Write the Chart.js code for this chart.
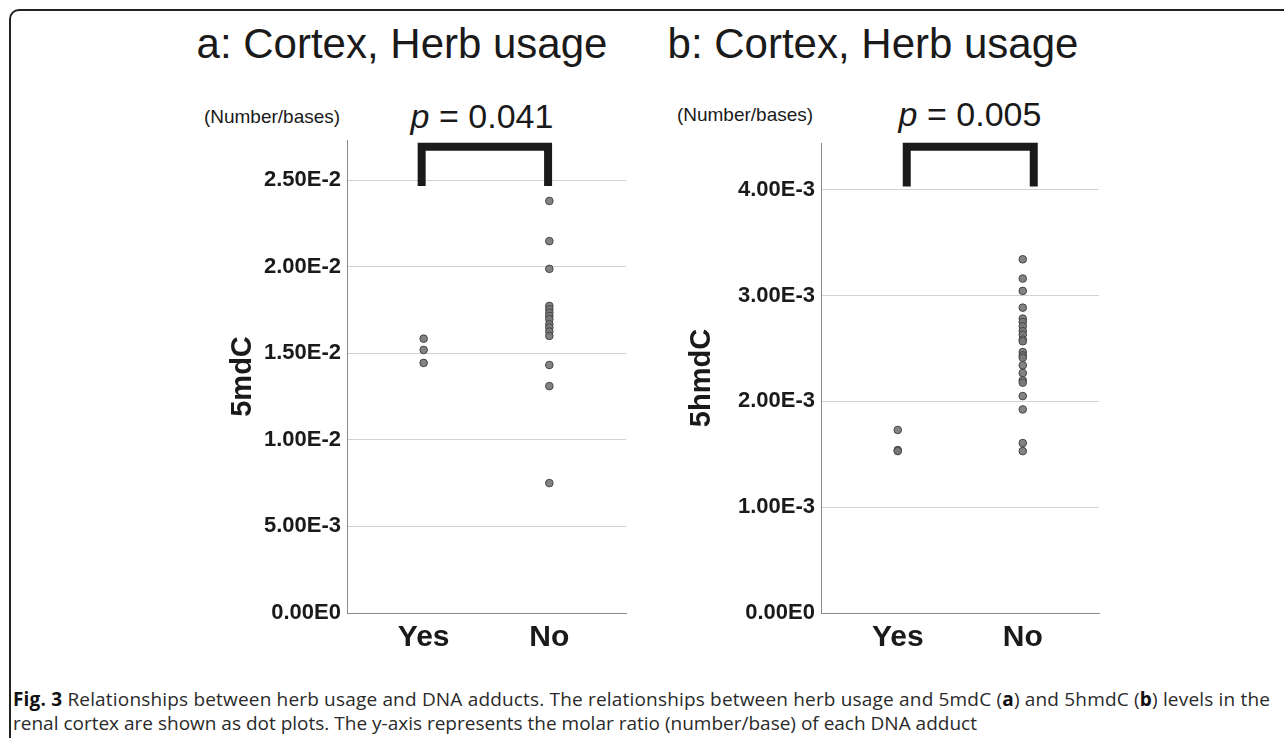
<!DOCTYPE html>
<html>
<head>
<meta charset="utf-8">
<script src="https://cdn.jsdelivr.net/npm/chart.js@4.4.1/dist/chart.umd.min.js"></script>
<style>
  html, body { margin: 0; padding: 0; background: #fff; }
  body { width: 1284px; height: 738px; position: relative; overflow: hidden; font-family: "Liberation Sans", Arial, sans-serif; }
  .frame { position: absolute; left: 9px; top: 9px; width: 1300px; height: 740px; border: 2px solid #222; border-radius: 10px; box-sizing: border-box; }
  .title { position: absolute; font-size: 42px; color: #1a1a1a; white-space: nowrap; transform: translateX(-50%); }
  .pval { position: absolute; font-size: 34px; color: #1a1a1a; white-space: nowrap; transform: translateX(-50%); }
  .unit { position: absolute; font-size: 19px; color: #1a1a1a; white-space: nowrap; transform: translateX(-50%); }
  .box { position: absolute; width: 450px; height: 560px; }
  .caption { position: absolute; left: 13px; top: 687px; font-family: "Open Sans", sans-serif; font-size: 19px; color: #2a2a2a; line-height: 24px; white-space: nowrap; }
  .caption b { color: #111; }
</style>
</head>
<body>
<div class="frame"></div>

<div class="title" style="left:402px; top:20px;">a: Cortex, Herb usage</div>
<div class="title" style="left:873px; top:20px;">b: Cortex, Herb usage</div>

<div class="unit" style="left:272px; top:106px;">(Number/bases)</div>
<div class="unit" style="left:745px; top:104px;">(Number/bases)</div>

<div class="pval" style="left:482px; top:97px;"><i>p</i> = 0.041</div>
<div class="pval" style="left:970px; top:95px;"><i>p</i> = 0.005</div>

<div class="box" style="left:190px; top:120px;"><canvas id="chartA"></canvas></div>
<div class="box" style="left:665px; top:120px;"><canvas id="chartB"></canvas></div>

<div class="caption">
  <div style="letter-spacing:0.18px;"><b>Fig. 3</b> Relationships between herb usage and DNA adducts. The relationships between herb usage and 5mdC (<b>a</b>) and 5hmdC (<b>b</b>) levels in the</div>
  <div>renal cortex are shown as dot plots. The y-axis represents the molar ratio (number/base) of each DNA adduct</div>
</div>

<script>
// categories (x = 1 for Yes, x = 2 for No)
const groups = ['Yes', 'No'];

// panel a: 5mdC (number/bases)
const mdcYes = [0.01584, 0.01519, 0.01444];
const mdcNo = [0.02379, 0.02147, 0.01987, 0.01773, 0.01754, 0.01734, 0.01715, 0.01696,
               0.01667, 0.01648, 0.01625, 0.01600, 0.01432, 0.01310, 0.00750];

// panel b: 5hmdC (number/bases)
const hmdcYes = [0.00173, 0.00154, 0.00153];
const hmdcNo = [0.003343, 0.003161, 0.003044, 0.002886, 0.002782, 0.002750, 0.002710, 0.002665,
                0.002631, 0.002584, 0.002568, 0.002466, 0.002435, 0.002413, 0.002341, 0.002268,
                0.002199, 0.002177, 0.002050, 0.001924, 0.001606, 0.001530];

// y ticks
const yTicksA = [0, 0.005, 0.01, 0.015, 0.02, 0.025];
const yTickLabelsA = ['0.00E0', '5.00E-3', '1.00E-2', '1.50E-2', '2.00E-2', '2.50E-2'];
const yTicksB = [0, 0.001, 0.002, 0.003, 0.004];
const yTickLabelsB = ['0.00E0', '1.00E-3', '2.00E-3', '3.00E-3', '4.00E-3'];

// significance brackets: legs at x positions, bar height, leg bottom
const bracketXA = [0.984, 0.984, 1.99, 1.99];
const bracketYA = [0.02465, 0.02692, 0.02692, 0.02465];
const bracketXB = [1.072, 1.072, 2.088, 2.088];
const bracketYB = [0.00403, 0.004407, 0.004407, 0.00403];

function toPoints(x, values) {
    return values.map(v => ({ x: x, y: v }));
}

function makeChart(id, opts) {
    const ctx = document.getElementById(id);
    return new Chart(ctx, {
        type: 'scatter',
        data: {
            datasets: [
                {
                    data: toPoints(1, opts.yes).concat(toPoints(2, opts.no)),
                    pointRadius: 3.8,
                    pointBackgroundColor: 'rgba(120,120,120,0.92)',
                    pointBorderColor: '#444',
                    pointBorderWidth: 1
                },
                {
                    type: 'line',
                    data: opts.bx.map((x, i) => ({ x: x, y: opts.by[i] })),
                    borderColor: '#1a1a1a',
                    borderWidth: 8,
                    pointRadius: 0,
                    borderCapStyle: 'butt',
                    borderJoinStyle: 'miter',
                    tension: 0,
                    fill: false,
                    clip: false
                }
            ]
        },
        options: {
            responsive: true,
            maintainAspectRatio: false,
            animation: false,
            events: [],
            layout: { padding: { top: opts.padTop, right: opts.padRight, left: 0, bottom: 0 } },
            plugins: {
                legend: { display: false },
                tooltip: { enabled: false }
            },
            scales: {
                x: {
                    type: 'linear',
                    min: opts.xmin,
                    max: opts.xmax,
                    grid: { display: false, drawTicks: false },
                    border: { display: true, color: '#8a8a8a', width: 1 },
                    afterBuildTicks: scale => { scale.ticks = [{ value: 1 }, { value: 2 }]; },
                    afterFit: scale => { scale.height = 67; },
                    ticks: {
                        padding: 7,
                        color: '#1a1a1a',
                        font: { family: 'Liberation Sans, Arial, sans-serif', size: 30, weight: 'bold' },
                        callback: v => groups[v - 1]
                    }
                },
                y: {
                    min: 0,
                    max: opts.ymax,
                    grid: { color: '#d2d2d2', lineWidth: 1, drawTicks: false },
                    border: { display: true, color: '#8a8a8a', width: 1 },
                    afterBuildTicks: scale => { scale.ticks = opts.ticks.map(v => ({ value: v })); },
                    afterFit: scale => { scale.width = opts.yWidth; },
                    ticks: {
                        padding: 6,
                        color: '#1a1a1a',
                        font: { family: 'Liberation Sans, Arial, sans-serif', size: 22, weight: 'bold' },
                        callback: v => opts.labels[opts.ticks.indexOf(v)]
                    },
                    title: {
                        display: true,
                        text: opts.yTitle,
                        color: '#1a1a1a',
                        padding: { top: opts.titlePad, bottom: 0 },
                        font: { family: 'Liberation Sans, Arial, sans-serif', size: 29, weight: 'bold' }
                    }
                }
            }
        }
    });
}

makeChart('chartA', {
    yes: mdcYes, no: mdcNo, bx: bracketXA, by: bracketYA,
    ticks: yTicksA, labels: yTickLabelsA, yTitle: '5mdC',
    xmin: 0.39, xmax: 2.61, ymax: 0.02731,
    padTop: 20, padRight: 14, yWidth: 157, titlePad: 36
});

makeChart('chartB', {
    yes: hmdcYes, no: hmdcNo, bx: bracketXB, by: bracketYB,
    ticks: yTicksB, labels: yTickLabelsB, yTitle: '5hmdC',
    xmin: 0.386, xmax: 2.61, ymax: 0.004442,
    padTop: 23, padRight: 16, yWidth: 156, titlePad: 20
});
</script>
</body>
</html>
